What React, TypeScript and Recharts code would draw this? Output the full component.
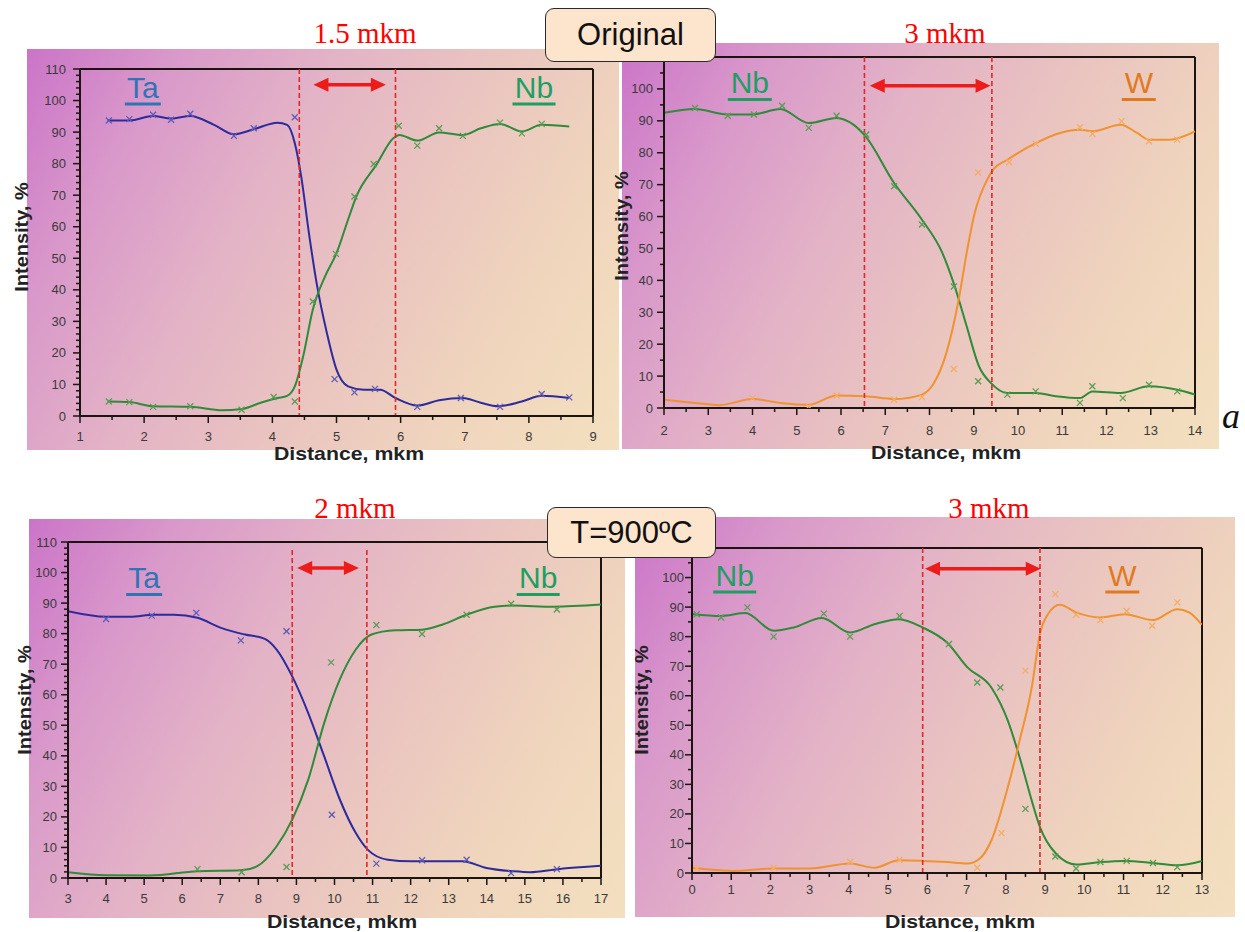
import React from 'react';
import { ComposedChart, Line, Scatter, XAxis, YAxis, ReferenceLine, ReferenceDot } from 'recharts';

type Pt = [number, number];

// ---------- Panel 1: Original, Ta / Nb ----------
const p1TaCurve: Pt[] = [[1.43,93.7],[1.77,93.7],[2.14,95.1],[2.42,94.3],[2.72,95.1],[3.09,92.3],[3.4,89.3],[3.71,90.9],[4.08,93.0],[4.23,92.3],[4.35,86.5],[4.45,75.9],[4.57,58],[4.69,42.1],[4.85,26.3],[5.0,14.7],[5.18,9.4],[5.43,8.3],[5.68,8.3],[5.92,5.7],[6.26,3.3],[6.6,5.0],[6.97,5.7],[7.25,4.2],[7.52,3.1],[7.89,4.6],[8.2,6.4],[8.63,5.7]];
const p1TaMarks: Pt[] = [[1.45,93.7],[1.77,94.1],[2.14,95.5],[2.42,93.9],[2.72,95.8],[3.4,88.8],[3.71,91.2],[4.35,94.7],[4.97,11.7],[5.28,7.5],[5.6,8.6],[6.26,2.9],[6.94,5.7],[7.55,2.9],[8.2,7.0],[8.63,5.9]];
const p1NbCurve: Pt[] = [[1.43,4.6],[1.77,4.4],[2.14,3.1],[2.72,2.9],[3.22,1.8],[3.52,2.2],[3.83,4.3],[4.08,5.7],[4.23,6.4],[4.35,9.4],[4.48,18.9],[4.63,33.7],[4.82,44.2],[5.0,51.6],[5.18,62.2],[5.31,69.6],[5.62,79.6],[5.89,88.1],[5.98,89.1],[6.26,87.3],[6.6,89.9],[6.97,89.1],[7.25,91.2],[7.55,92.6],[7.89,90.2],[8.2,92.3],[8.63,91.8]];
const p1NbMarks: Pt[] = [[1.45,4.6],[1.77,4.4],[2.14,2.9],[2.72,3.1],[3.52,2.0],[4.02,6.0],[4.35,4.6],[4.63,36.3],[4.99,51.4],[5.28,69.6],[5.58,79.9],[5.97,92],[6.26,85.7],[6.6,91.2],[6.97,88.8],[7.55,93],[7.89,89.6],[8.2,92.6]];

// ---------- Panel 2: Original, Nb / W ----------
const p2NbCurve: Pt[] = [[2.0,92.5],[2.7,93.7],[3.44,92],[4.0,92],[4.63,93.7],[5.27,89.3],[5.9,90.9],[6.28,88.8],[6.55,85.2],[7.2,70.5],[7.83,59],[8.29,48.6],[8.57,38.1],[8.84,25.6],[9.12,13],[9.39,7.8],[9.76,4.7],[10.4,4.7],[10.86,3.7],[11.4,3.1],[11.68,5.2],[12.32,4.7],[12.96,6.8],[13.6,5.7],[14.0,4.2]];
const p2NbMarks: Pt[] = [[2.7,94],[3.44,91.6],[4.03,92],[4.67,94.7],[5.27,87.8],[5.9,91.6],[6.57,85.7],[7.2,69.5],[7.83,57.5],[8.55,38.1],[9.1,8.4],[9.76,4.2],[10.4,5.2],[11.4,1.6],[11.68,6.8],[12.37,3.1],[12.96,7.3],[13.6,5.2]];
const p2WCurve: Pt[] = [[2.0,2.6],[2.7,1.6],[3.25,0.9],[4.0,2.8],[4.63,1.6],[5.27,1.0],[5.9,3.9],[6.55,3.7],[7.2,2.8],[7.83,4.2],[8.1,7.8],[8.38,17.2],[8.66,34],[8.84,48.6],[9.02,61],[9.3,71.5],[9.44,74.7],[9.76,77.8],[10.4,83],[10.95,86.2],[11.4,87.2],[11.68,86.7],[12.32,88.8],[12.69,86.2],[12.96,84.1],[13.42,84.1],[14.0,86.7]];
const p2WMarks: Pt[] = [[4.0,3.1],[5.27,0.5],[5.9,3.9],[7.2,2.6],[7.83,3.4],[8.55,12.2],[9.1,73.8],[9.8,77],[10.4,82.8],[11.4,88],[11.68,85.9],[12.34,89.9],[12.96,83.6],[13.6,84.1]];

// ---------- Panel 3: T=900ºC, Ta / Nb ----------
const p3TaCurve: Pt[] = [[3.0,87.3],[4.0,85.5],[4.63,85.5],[5.26,86.2],[5.78,86.2],[6.4,85.2],[7.02,81.9],[7.65,79.7],[8.17,78.3],[8.48,74.8],[8.89,66],[9.31,54],[9.73,39.8],[10.14,25.7],[10.56,14.7],[10.87,9.3],[11.4,6],[12.0,5.5],[13.36,5.5],[13.99,3.3],[14.7,2.2],[15.13,1.9],[15.86,2.9],[17.0,4.0]];
const p3TaMarks: Pt[] = [[4.0,84.8],[5.2,85.9],[6.37,86.8],[7.54,77.8],[8.74,80.8],[9.93,20.7],[11.1,4.7],[12.3,5.8],[13.47,6],[14.64,1.6],[15.84,2.9]];
const p3NbCurve: Pt[] = [[3.0,1.9],[4.0,0.9],[5.15,0.8],[6.4,2.2],[7.54,2.5],[7.96,3.8],[8.48,10.4],[8.89,19.1],[9.31,32.2],[9.73,50.8],[10.14,65],[10.56,74.8],[10.97,79.7],[11.6,81.1],[12.3,81.3],[12.84,83],[13.47,86.2],[14.2,88.8],[14.7,89.2],[15.75,88.8],[17.0,89.5]];
const p3NbMarks: Pt[] = [[6.4,2.9],[7.56,1.9],[8.74,3.6],[9.91,70.6],[11.1,82.8],[12.3,79.9],[13.47,86.2],[14.64,89.8],[15.84,87.9]];

// ---------- Panel 4: T=900ºC, Nb / W ----------
const p4NbCurve: Pt[] = [[0.02,87.6],[0.74,87],[1.36,88],[2.08,82],[2.59,83.1],[3.31,86.3],[4.03,81.4],[4.65,84.2],[5.27,85.9],[5.88,83.1],[6.5,78],[7.02,69.6],[7.63,62.8],[8.05,51.6],[8.35,39.2],[8.66,24.5],[8.87,15.5],[9.28,6.5],[9.79,2.9],[10.41,3.7],[11.03,4.1],[11.75,3.4],[12.37,2.6],[13.0,4.1]];
const p4NbMarks: Pt[] = [[0.12,87.6],[0.74,86.5],[1.41,89.9],[2.08,80],[3.36,87.8],[4.03,80],[5.29,87],[6.55,77.5],[7.27,64.5],[7.86,62.8],[8.5,21.7],[9.26,5.6],[9.79,1.5],[10.41,3.7],[11.08,4.1],[11.75,3.4],[12.37,2]];
const p4WCurve: Pt[] = [[0.02,1.8],[0.74,0.9],[1.05,0.7],[2.08,1.5],[3.0,1.5],[4.03,3.2],[4.65,1.8],[5.27,4.3],[5.88,4.1],[6.5,3.7],[7.02,3.2],[7.33,4.8],[7.63,11],[8.05,29],[8.35,44.8],[8.66,62.8],[8.87,80.9],[9.07,87.6],[9.38,90.8],[9.79,88.2],[10.41,86.5],[11.03,87.6],[11.75,85.6],[12.37,89.3],[12.67,88.2],[13.0,84]];
const p4WMarks: Pt[] = [[0.12,1.5],[2.08,1.8],[4.03,3.7],[5.29,4.5],[7.27,1.8],[7.89,13.5],[8.5,68.5],[9.26,94.4],[9.79,87.4],[10.41,85.6],[11.08,88.7],[11.73,83.7],[12.37,91.6]];

// boundary lines (mkm) and widths
const p1Bounds = [4.42, 5.92];
const p2Bounds = [6.53, 9.41];
const p3Bounds = [8.89, 10.85];
const p4Bounds = [5.88, 8.87];
const widthLabels = ['1.5 mkm', '3 mkm', '2 mkm', '3 mkm'];

const TA = '#2d2b9b', TA_M = '#5d5bb5';
const NB = '#2f8a3a', NB_M = '#5a9c55';
const W = '#f09230', W_M = '#f3ad68';
const RED = '#ee1b1b';
const DASH = '#e3262a';
const AXIS = '#1c1410';
const TICK_FONT = "'Liberation Sans Narrow','Arial Narrow','Liberation Sans',Arial,sans-serif";
const SANS = "'Liberation Sans',Arial,sans-serif";
const SERIF = "'Liberation Serif','Times New Roman',serif";
const GRAD = 'linear-gradient(120deg, #cb74c8 0%, #d998ca 18%, #e3b3c6 38%, #eac5c0 58%, #f0d5bd 78%, #f3e0bf 100%)';

const toObj = (a: Pt[]) => a.map(([x, y]) => ({ x, y }));
const range = (a: number, b: number, s: number) => {
  const out: number[] = [];
  for (let i = 0; a + i * s <= b + 1e-9; i++) out.push(+(a + i * s).toFixed(3));
  return out;
};

interface SeriesCfg { curve: Pt[]; marks: Pt[]; color: string; mark: string; }
interface LabelCfg { text: string; x: number; y: number; color: string; w: number; }
interface PanelCfg {
  bg: [number, number, number, number];
  plot: [number, number, number, number];
  xDomain: [number, number];
  yLabelMax: number;
  yMinor: number;
  xLabelDy: number;
  yGap: number;
  series: SeriesCfg[];
  bounds: number[];
  dashTop: number;
  arrow: [number, number, number];
  labels: LabelCfg[];
  yTitle: [number, number];
  xTitle: [number, number];
}

const panels: PanelCfg[] = [
  {
    bg: [27, 49, 619, 450], plot: [80, 69, 593, 416], xDomain: [1, 9], yLabelMax: 110, yMinor: 2,
    xLabelDy: 25, yGap: 14,
    series: [
      { curve: p1TaCurve, marks: p1TaMarks, color: TA, mark: TA_M },
      { curve: p1NbCurve, marks: p1NbMarks, color: NB, mark: NB_M },
    ],
    bounds: p1Bounds, dashTop: 110, arrow: [4.64, 5.77, 105],
    labels: [
      { text: 'Ta', x: 1.98, y: 100.8, color: '#2f74b5', w: 36 },
      { text: 'Nb', x: 8.08, y: 100.8, color: '#1f9e63', w: 43 },
    ],
    yTitle: [21, 237], xTitle: [349, 453],
  },
  {
    bg: [622, 43, 1219, 449], plot: [664, 57, 1195, 408], xDomain: [2, 14], yLabelMax: 100, yMinor: 5,
    xLabelDy: 27, yGap: 11,
    series: [
      { curve: p2NbCurve, marks: p2NbMarks, color: NB, mark: NB_M },
      { curve: p2WCurve, marks: p2WMarks, color: W, mark: W_M },
    ],
    bounds: p2Bounds, dashTop: 110, arrow: [6.65, 9.38, 101],
    labels: [
      { text: 'Nb', x: 3.94, y: 98.6, color: '#1f9e63', w: 44 },
      { text: 'W', x: 12.73, y: 98.6, color: '#e07a1f', w: 34 },
    ],
    yTitle: [621, 226], xTitle: [946, 452],
  },
  {
    bg: [29, 519, 625, 918], plot: [68, 542, 601, 878], xDomain: [3, 17], yLabelMax: 110, yMinor: 2,
    xLabelDy: 25, yGap: 11,
    series: [
      { curve: p3TaCurve, marks: p3TaMarks, color: TA, mark: TA_M },
      { curve: p3NbCurve, marks: p3NbMarks, color: NB, mark: NB_M },
    ],
    bounds: p3Bounds, dashTop: 107.4, arrow: [9.02, 10.64, 101.5],
    labels: [
      { text: 'Ta', x: 5.0, y: 94.8, color: '#2f74b5', w: 36 },
      { text: 'Nb', x: 15.35, y: 94.8, color: '#1f9e63', w: 43 },
    ],
    yTitle: [24, 700], xTitle: [342, 921],
  },
  {
    bg: [635, 517, 1235, 917], plot: [692, 548, 1202, 873], xDomain: [0, 13], yLabelMax: 100, yMinor: 5,
    xLabelDy: 21, yGap: 8,
    series: [
      { curve: p4NbCurve, marks: p4NbMarks, color: NB, mark: NB_M },
      { curve: p4WCurve, marks: p4WMarks, color: W, mark: W_M },
    ],
    bounds: p4Bounds, dashTop: 110, arrow: [5.94, 8.89, 103],
    labels: [
      { text: 'Nb', x: 1.09, y: 97.1, color: '#1f9e63', w: 43 },
      { text: 'W', x: 10.97, y: 97.1, color: '#e07a1f', w: 34 },
    ],
    yTitle: [641, 700], xTitle: [960, 921],
  },
];

const makeXTick = (dy: number) => (p: any) => {
  const v = p.payload.value;
  const major = Math.abs(v - Math.round(v)) < 1e-6;
  return (
    <g>
      <line x1={p.x} x2={p.x} y1={p.y} y2={p.y + (major ? 7 : 4)} stroke={AXIS} strokeWidth={1.5} />
      {major && (
        <text x={p.x} y={p.y + dy} textAnchor="middle" fontSize={13} fill="#3a3a3a" fontFamily={TICK_FONT}>{v}</text>
      )}
    </g>
  );
};

const makeYTick = (gap: number, maxLabel: number) => (p: any) => {
  const v = p.payload.value;
  const major = Math.abs(v % 10) < 1e-6;
  return (
    <g>
      <line x1={p.x} x2={p.x - (major ? 7 : 4)} y1={p.y} y2={p.y} stroke={AXIS} strokeWidth={1.5} />
      {major && v <= maxLabel && (
        <text x={p.x - gap} y={p.y + 4.5} textAnchor="end" fontSize={13} fill="#3a3a3a" fontFamily={TICK_FONT}>{v}</text>
      )}
    </g>
  );
};

const crossShape = (color: string) => (p: any) => {
  const { cx, cy } = p;
  const s = 3;
  return (
    <g stroke={color} strokeWidth={1.3}>
      <line x1={cx - s} y1={cy - s} x2={cx + s} y2={cy + s} />
      <line x1={cx - s} y1={cy + s} x2={cx + s} y2={cy - s} />
    </g>
  );
};

const arrowShape = (p: any) => {
  const { x1, y1, x2 } = p;
  const h = 15, w = 7;
  return (
    <g>
      <line x1={x1 + h - 2} y1={y1} x2={x2 - h + 2} y2={y1} stroke={RED} strokeWidth={3.5} />
      <polygon points={`${x1},${y1} ${x1 + h},${y1 - w} ${x1 + h},${y1 + w}`} fill={RED} />
      <polygon points={`${x2},${y1} ${x2 - h},${y1 - w} ${x2 - h},${y1 + w}`} fill={RED} />
    </g>
  );
};

const labelShape = (l: LabelCfg) => (p: any) => {
  const { cx, cy } = p;
  return (
    <g>
      <text x={cx} y={cy} textAnchor="middle" fontSize={30} fill={l.color} fontFamily={SANS}>{l.text}</text>
      <line x1={cx - l.w / 2} x2={cx + l.w / 2} y1={cy + 6} y2={cy + 6} stroke={l.color} strokeWidth={3} />
    </g>
  );
};

const centered = (x: number, y: number, extra: React.CSSProperties = {}): React.CSSProperties => ({
  position: 'absolute', left: x, top: y, transform: 'translate(-50%, -50%)', whiteSpace: 'nowrap', lineHeight: 1, ...extra,
});

function Panel({ cfg }: { cfg: PanelCfg }) {
  const [pl, pt, pr, pb] = cfg.plot;
  const L = 70, T = 20, R = 30, B = 50;
  const width = pr - pl + L + R;
  const height = pb - pt + T + B;
  const xTicks = range(cfg.xDomain[0], cfg.xDomain[1], 0.5);
  const yTicks = range(0, 110, cfg.yMinor);
  const [bl, bt, br, bb] = cfg.bg;
  return (
    <>
      <div style={{ position: 'absolute', left: bl, top: bt, width: br - bl, height: bb - bt, background: GRAD }} />
      <div style={{ position: 'absolute', left: pl - L, top: pt - T }}>
        <ComposedChart width={width} height={height} margin={{ top: T, right: R, bottom: 0, left: 0 }}>
          <XAxis type="number" dataKey="x" domain={cfg.xDomain} ticks={xTicks} interval={0} tickSize={0} tickMargin={0}
            tickLine={false} axisLine={{ stroke: AXIS, strokeWidth: 2 }} tick={makeXTick(cfg.xLabelDy)} height={B} allowDataOverflow />
          <YAxis type="number" dataKey="y" domain={[0, 110]} ticks={yTicks} interval={0} tickSize={0} tickMargin={0}
            tickLine={false} axisLine={{ stroke: AXIS, strokeWidth: 2 }} tick={makeYTick(cfg.yGap, cfg.yLabelMax)} width={L} allowDataOverflow />
          <ReferenceLine y={110} stroke={AXIS} strokeWidth={2} />
          <ReferenceLine x={cfg.xDomain[1]} stroke={AXIS} strokeWidth={2} />
          {cfg.series.map((s, i) => (
            <Line key={'l' + i} data={toObj(s.curve)} dataKey="y" type="monotone" stroke={s.color} strokeWidth={2}
              dot={false} activeDot={false} isAnimationActive={false} />
          ))}
          {cfg.series.map((s, i) => (
            <Scatter key={'s' + i} data={toObj(s.marks)} dataKey="y" shape={crossShape(s.mark)} isAnimationActive={false} />
          ))}
          {cfg.bounds.map((b, i) => (
            <ReferenceLine key={'b' + i} segment={[{ x: b, y: cfg.dashTop }, { x: b, y: 0 }]} stroke={DASH}
              strokeWidth={1.6} strokeDasharray="5 3" />
          ))}
          <ReferenceLine segment={[{ x: cfg.arrow[0], y: cfg.arrow[2] }, { x: cfg.arrow[1], y: cfg.arrow[2] }]} shape={arrowShape} />
          {cfg.labels.map((l, i) => (
            <ReferenceDot key={'t' + i} x={l.x} y={l.y} r={0} shape={labelShape(l)} />
          ))}
        </ComposedChart>
      </div>
      <div style={centered(cfg.yTitle[0], cfg.yTitle[1], { transform: 'translate(-50%, -50%) rotate(-90deg) scaleX(1.05)', fontFamily: SANS, fontWeight: 'bold', fontSize: 19, color: '#222' })}>Intensity, %</div>
      <div style={centered(cfg.xTitle[0], cfg.xTitle[1], { transform: 'translate(-50%, -50%) scaleX(1.12)', fontFamily: SANS, fontWeight: 'bold', fontSize: 19, color: '#222' })}>Distance, mkm</div>
    </>
  );
}

const boxStyle = (l: number, t: number, w: number, h: number): React.CSSProperties => ({
  position: 'absolute', left: l, top: t, width: w, height: h, boxSizing: 'border-box', border: '1.5px solid #2a2a2a',
  borderRadius: 9, background: '#fce4cd', display: 'flex', alignItems: 'center', justifyContent: 'center',
  fontFamily: SANS, fontSize: 31, color: '#111',
});

export default function App() {
  const red = { fontFamily: SERIF, fontSize: 29, color: '#ff0000' };
  return (
    <div style={{ position: 'absolute', left: 0, top: 0, width: 1245, height: 932, background: '#fff', overflow: 'hidden' }}>
      {panels.map((p, i) => <Panel key={i} cfg={p} />)}
      <div style={centered(365, 33, red)}>{widthLabels[0]}</div>
      <div style={centered(945, 33, red)}>{widthLabels[1]}</div>
      <div style={centered(355, 508, red)}>{widthLabels[2]}</div>
      <div style={centered(989, 508, red)}>{widthLabels[3]}</div>
      <div style={boxStyle(545, 8, 171, 54)}>Original</div>
      <div style={boxStyle(547, 507, 169, 51)}>T=900ºC</div>
      <div style={centered(1231, 416, { fontFamily: SERIF, fontStyle: 'italic', fontSize: 36, color: '#111' })}>a</div>
    </div>
  );
}
